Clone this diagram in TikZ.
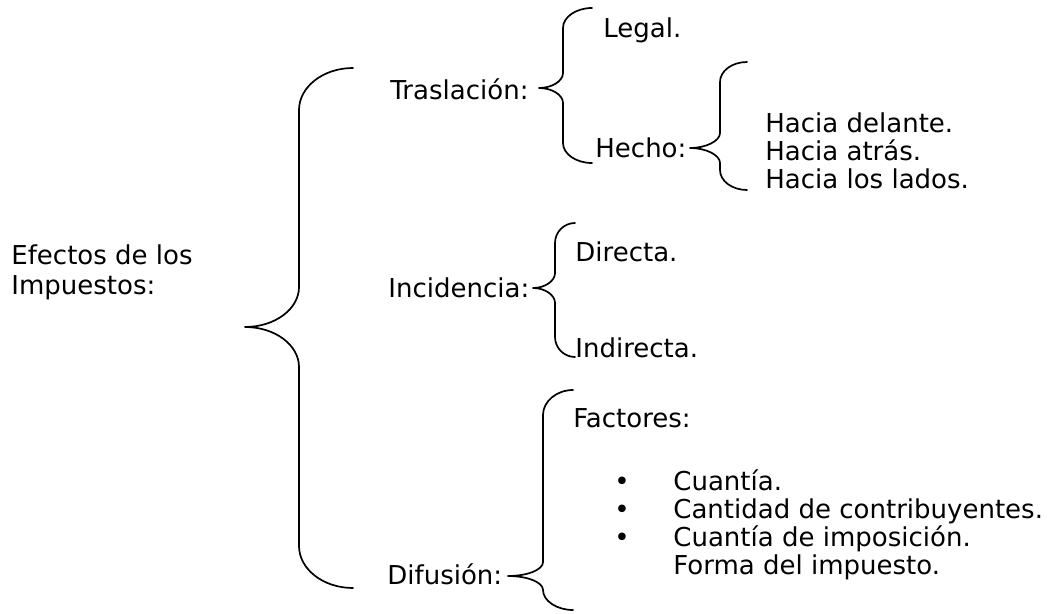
\documentclass[tikz,border=0pt]{standalone}
\usepackage{fontspec}
\setmainfont{DejaVu Sans}
\begin{document}
\begin{tikzpicture}[x=0.5pt, y=-0.5pt, line join=round, line cap=round,
    txt/.style={anchor=west, inner sep=0pt, text height=9.5pt, text depth=0pt},
    llave/.style={line width=0.85pt}]
    \useasboundingbox (0,0) rectangle (1049,614);
    \fontsize{13pt}{15pt}\selectfont
    % textos
    \node[txt] (efectos) at (11,255) {Efectos de los};
    \node[txt] (impuestos) at (11,285) {Impuestos:};
    \node[txt] (traslacion) at (390,90) {Traslación:};
    \node[txt] (legal) at (603,28) {Legal.};
    \node[txt] (hecho) at (595,148) {Hecho:};
    \node[txt] (delante) at (765,123) {Hacia delante.};
    \node[txt] (atras) at (765,151) {Hacia atrás.};
    \node[txt] (lados) at (765,179) {Hacia los lados.};
    \node[txt] (incidencia) at (388,288) {Incidencia:};
    \node[txt] (directa) at (575,252) {Directa.};
    \node[txt] (indirecta) at (575,348) {Indirecta.};
    \node[txt] (difusion) at (387,575) {Difusión:};
    \node[txt] (factores) at (573,418) {Factores:};
    \foreach \y/\n in {481/1,509/2,537/3}
        \node[txt] (punto\n) at (614,\y) {•};
    \node[txt] (cuantia) at (673,481) {Cuantía.};
    \node[txt] (cantidad) at (673,509) {Cantidad de contribuyentes.};
    \node[txt] (imposicion) at (673,537) {Cuantía de imposición.};
    \node[txt] (forma) at (673,565) {Forma del impuesto.};
    % llaves
    \draw[llave] (353,68) .. controls (323,68) and (299,87) .. (299,110) -- (299,287) .. controls (299,309) and (275,327) .. (245,327) .. controls (275,327) and (299,345) .. (299,367) -- (299,546) .. controls (299,569) and (323,588) .. (353,588);
    \draw[llave] (592,8) .. controls (576,8) and (563,17) .. (563,28) -- (563,73) .. controls (563,81) and (552,88) .. (539,88) .. controls (552,88) and (563,95) .. (563,103) -- (563,143) .. controls (563,154) and (576,163) .. (592,163);
    \draw[llave] (747,62) .. controls (732,62) and (720,71) .. (720,82) -- (720,133) .. controls (720,141) and (706,148) .. (690,148) .. controls (706,148) and (720,155) .. (720,163) -- (720,170) .. controls (720,181) and (732,190) .. (747,190);
    \draw[llave] (575,223) .. controls (564,223) and (555,232) .. (555,243) -- (555,273) .. controls (555,281) and (545,288) .. (533,288) .. controls (545,288) and (555,295) .. (555,303) -- (555,337) .. controls (555,348) and (564,357) .. (575,357);
    \draw[llave] (573,390) .. controls (557,390) and (543,401) .. (543,415) -- (543,562) .. controls (543,570) and (527,576) .. (508,576) .. controls (527,576) and (543,582) .. (543,590) .. controls (543,601) and (557,610) .. (573,610);
\end{tikzpicture}
\end{document}
